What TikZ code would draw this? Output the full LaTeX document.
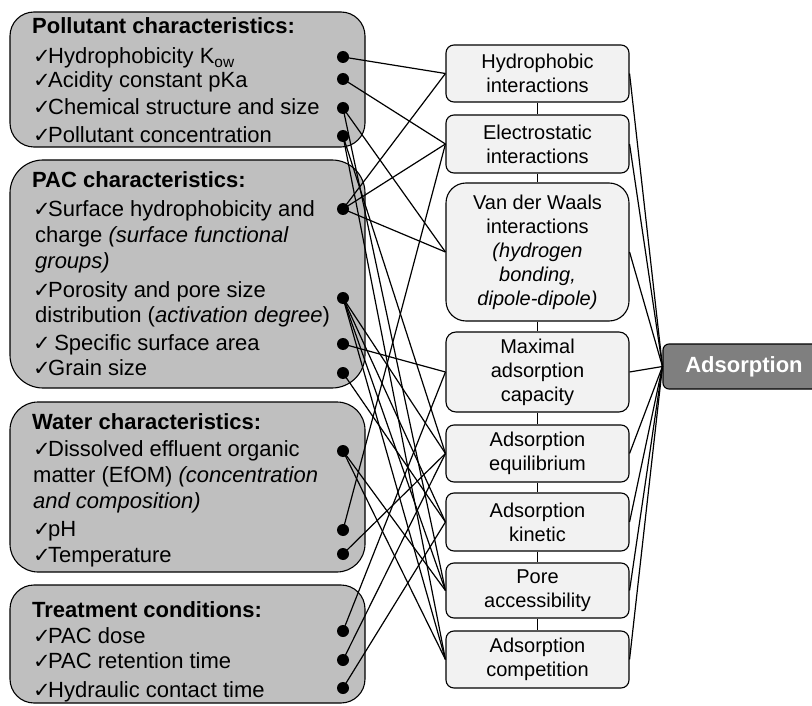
\documentclass[tikz,border=0pt]{standalone}
\usepackage{fontspec}
\setmainfont{Liberation Sans}
\newfontfamily\dejavu{DejaVu Sans}
\newcommand\chk{\makebox[15pt][l]{\dejavu\fontsize{21}{21}\selectfont ✓}}
\definecolor{lgray}{HTML}{BFBFBF}
\definecolor{mgray}{HTML}{F2F2F2}
\definecolor{dgray}{HTML}{7F7F7F}
\begin{document}
\begin{tikzpicture}[x=1pt,y=-1pt,
  lbox/.style={draw, line width=1.1pt, fill=lgray, minimum width=355pt, inner sep=0},
  ltext/.style={anchor=base west, inner sep=0, font=\fontsize{22}{26}\selectfont},
  mbox/.style={draw, line width=1.1pt, fill=mgray, rounded corners=8pt, minimum width=183pt, inner sep=0, align=center, font=\fontsize{20}{24}\selectfont},
  abox/.style={draw, line width=1.1pt, fill=dgray, rounded corners=6pt, minimum width=162pt, minimum height=45pt, inner sep=0, text=white, font=\fontsize{22}{26}\selectfont\bfseries},
  dot/.style={circle, fill=black, inner sep=0, minimum size=12pt},
  conn/.style={line width=1.2pt}]
\useasboundingbox (0,0) rectangle (812,706);
\clip (0,0) rectangle (812,706);

% left boxes
\node[lbox, minimum height=135pt, rounded corners=24pt] (box1) at (187.5,79.5) {};
\node[lbox, minimum height=228pt, rounded corners=33pt] (box2) at (187.5,274) {};
\node[lbox, minimum height=170pt, rounded corners=28pt] (box3) at (187.5,487) {};
\node[lbox, minimum height=118pt, rounded corners=24pt] (box4) at (187.5,644) {};

% box 1 text
\node[ltext] (t1a) at (32,34) {\bfseries Pollutant characteristics:};
\node[ltext] (t1b) at (33,64) {\chk Hydrophobicity K\textsubscript{ow}};
\node[ltext] (t1c) at (33,88) {\chk Acidity constant pKa};
\node[ltext] (t1d) at (33,115) {\chk Chemical structure and size};
\node[ltext] (t1e) at (33,143) {\chk Pollutant concentration};
% box 2 text
\node[ltext] (t2a) at (32,188) {\bfseries PAC characteristics:};
\node[ltext] (t2b) at (33,217) {\chk Surface hydrophobicity and};
\node[ltext] (t2c) at (35,243) {charge \textit{(surface functional}};
\node[ltext] (t2d) at (35,268) {\textit{groups)}};
\node[ltext] (t2e) at (33,297) {\chk Porosity and pore size};
\node[ltext] (t2f) at (35,322) {distribution (\textit{activation degree})};
\node[ltext] (t2g) at (33,350) {\chk\ Specific surface area};
\node[ltext] (t2h) at (33,375) {\chk Grain size};
% box 3 text
\node[ltext] (t3a) at (32,429) {\bfseries Water characteristics:};
\node[ltext] (t3b) at (33,456) {\chk Dissolved effluent organic};
\node[ltext] (t3c) at (33,482) {matter (EfOM) \textit{(concentration}};
\node[ltext] (t3d) at (33,508) {\textit{and composition)}};
\node[ltext] (t3e) at (33,536) {\chk pH};
\node[ltext] (t3f) at (33,562) {\chk Temperature};
% box 4 text
\node[ltext] (t4a) at (32,617) {\bfseries Treatment conditions:};
\node[ltext] (t4b) at (33,643) {\chk PAC dose};
\node[ltext] (t4c) at (33,668) {\chk PAC retention time};
\node[ltext] (t4d) at (33,697) {\chk Hydraulic contact time};

% middle boxes
\node[mbox, minimum height=57pt] (hy) at (537.5,73.5) {Hydrophobic\\interactions};
\node[mbox, minimum height=58pt] (el) at (537.5,144) {Electrostatic\\interactions};
\node[mbox, minimum height=138pt, rounded corners=20pt] (vw) at (537.5,252) {Van der Waals\\interactions\\\textit{(hydrogen}\\\textit{bonding,}\\\textit{dipole-dipole)}};
\node[mbox, minimum height=80pt, rounded corners=10pt] (mx) at (537.5,372) {Maximal\\adsorption\\capacity};
\node[mbox, minimum height=57pt] (eq) at (537.5,453.5) {Adsorption\\equilibrium};
\node[mbox, minimum height=58pt] (ki) at (537.5,522) {Adsorption\\kinetic};
\node[mbox, minimum height=55pt] (po) at (537.5,590.5) {Pore\\accessibility};
\node[mbox, minimum height=57pt] (co) at (537.5,659.5) {Adsorption\\competition};

% adsorption
\node[abox] (ads) at (744,366.5) {Adsorption};

% vertical chain
\foreach \a/\b in {hy/el, el/vw, vw/mx, mx/eq, eq/ki, ki/po, po/co}
  \draw[conn] (\a.south) -- (\b.north);
% to adsorption
\foreach \a in {hy, el, vw, mx, eq, ki, po, co}
  \draw[conn] (\a.east) -- (ads.west);

% dots
\node[dot] (kow) at (343,57) {};
\node[dot] (pka) at (343,79) {};
\node[dot] (chem) at (343,108) {};
\node[dot] (conc) at (343,136) {};
\node[dot] (surf) at (343,209) {};
\node[dot] (poro) at (343,298) {};
\node[dot] (ssa) at (343,344) {};
\node[dot] (grain) at (343,373) {};
\node[dot] (efom) at (343,451) {};
\node[dot] (ph) at (343,530) {};
\node[dot] (temp) at (343,554) {};
\node[dot] (dose) at (343,631) {};
\node[dot] (ret) at (343,660) {};
\node[dot] (hyd) at (343,688) {};

% connections
\foreach \s/\t in {kow/hy, pka/el, chem/vw, chem/po, conc/eq, conc/co,
  surf/hy, surf/el, surf/vw, poro/eq, poro/ki, poro/po, poro/co,
  ssa/mx, grain/ki, efom/po, efom/co, ph/el, temp/eq, dose/mx, ret/eq, hyd/ki}
  \draw[conn] (\s.center) -- (\t.west);
\end{tikzpicture}
\end{document}
